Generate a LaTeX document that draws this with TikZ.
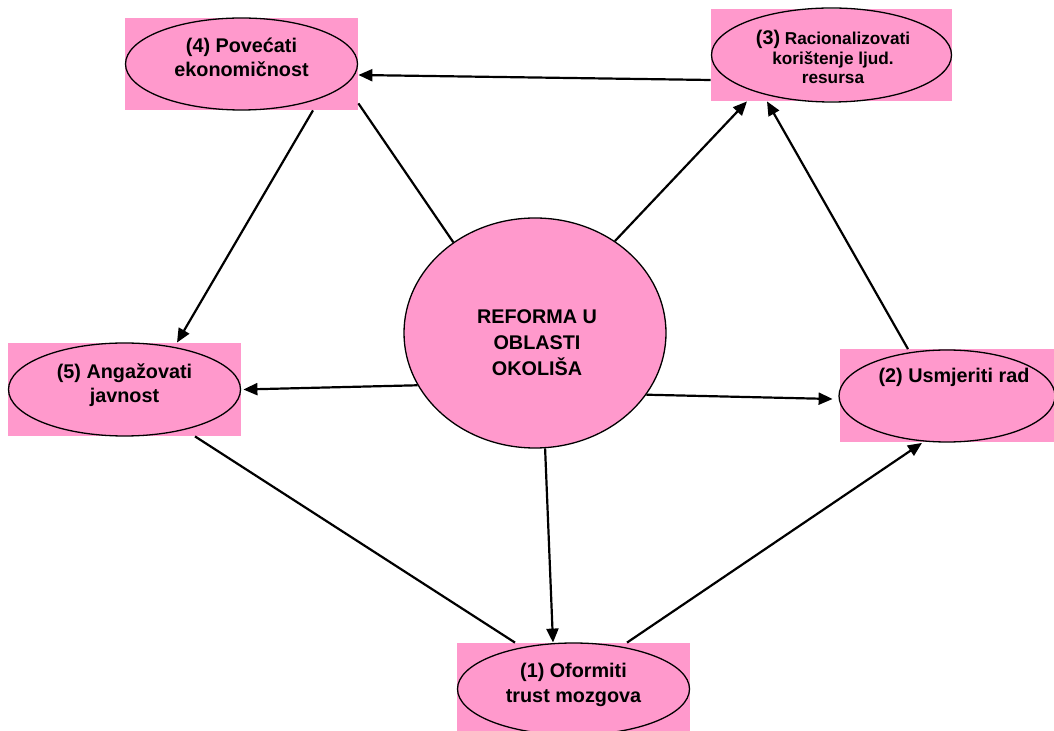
\documentclass[tikz,border=0pt]{standalone}
\usepackage{fontspec}
\setmainfont{Liberation Sans}
\usepackage{xcolor}
\usetikzlibrary{calc,shapes.geometric,arrows.meta}
\definecolor{rozi}{RGB}{255,153,204}

\begin{document}
\begin{tikzpicture}[x=0.5pt, y=-0.5pt,
  box/.style={rectangle, fill=rozi, inner sep=0pt},
  ring/.style={ellipse, draw, line width=0.65pt, inner sep=0pt},
  lbl/.style={align=center, anchor=base, inner sep=0pt,
              font=\fontsize{9.9}{12.25}\selectfont\bfseries},
  arr/.style={line width=1.1pt, -{Triangle[length=7pt,width=6pt]}},
  ln/.style={line width=1.1pt}]
\useasboundingbox (0,0) rectangle (1054,731);
%
\node[box, minimum width=116.5pt, minimum height=46pt]   (box4) at (241.5,64)  {};
\node[box, minimum width=120.5pt, minimum height=46pt]   (box3) at (831.5,55)  {};
\node[box, minimum width=116.5pt, minimum height=46.5pt] (box5) at (124.5,389.5) {};
\node[box, minimum width=107pt,   minimum height=46.5pt] (box2) at (947,396)   {};
\node[box, minimum width=116.5pt, minimum height=46pt]   (box1) at (573.5,689) {};
%
\node[ring, minimum width=116pt, minimum height=46pt]   (ell4) at (box4) {};
\node[ring, minimum width=120pt, minimum height=47pt]   (ell3) at (box3) {};
\node[ring, minimum width=116pt, minimum height=46.5pt] (ell5) at (box5) {};
\node[ring, minimum width=108pt, minimum height=46pt]   (ell2) at (box2) {};
\node[ring, minimum width=116pt, minimum height=46pt]   (ell1) at (box1) {};
\node[ring, fill=rozi, minimum width=131pt, minimum height=115pt] (hub) at (535,333) {};
%
\node[lbl] (txt4) at ($(box4.center)+(0,13)$) {(4) Povećati\\ekonomičnost};
\node[lbl, font=\fontsize{8.6}{9.9}\selectfont\bfseries] (txt3) at ($(box3.center)+(1.5,29)$)
  {{\fontsize{9.9}{10}\selectfont (3)} Racionalizovati\\korištenje ljud.\\resursa};
\node[lbl] (txt5) at ($(box5.center)+(0,13.5)$) {(5) Angažovati\\javnost};
\node[lbl] (txt2) at ($(box2.center)+(7,-13)$) {(2) Usmjeriti rad};
\node[lbl] (txt1) at ($(box1.center)+(0,13)$) {(1) Oformiti\\trust mozgova};
\node[lbl, font=\fontsize{9.9}{13}\selectfont\bfseries] (hubtxt) at ($(hub.center)+(2,43)$)
  {REFORMA U\\OBLASTI\\OKOLIŠA};
%
\draw[arr] ($(box3.west)+(0,25)$) -- ($(box4.east)+(0,11)$);
\draw[arr] ($(box4.south)+(71.5,0)$) -- ($(box5.north)+(52.5,0)$);
\draw[ln]  (hub.132) -- ($(box4.south east)+(0,-7)$);
\draw[arr] (hub.49) -- ($(box3.south)+(-84.5,0)$);
\draw[arr] ($(box2.north)+(-39,0)$) -- ($(box3.south)+(-64.5,0)$);
\draw[arr] (hub.204) -- ($(box5.east)+(2,0)$);
\draw[arr] (hub.331) -- ($(box2.west)+(-7,3)$);
\draw[arr] (hub.275) -- ($(box1.north)+(-20.5,0)$);
\draw[ln]  ($(box5.south)+(70.5,0)$) -- ($(box1.north)+(-58.5,0)$);
\draw[arr] ($(box1.north)+(53.5,0)$) -- ($(box2.south)+(-25,0)$);
%
\end{tikzpicture}
\end{document}
